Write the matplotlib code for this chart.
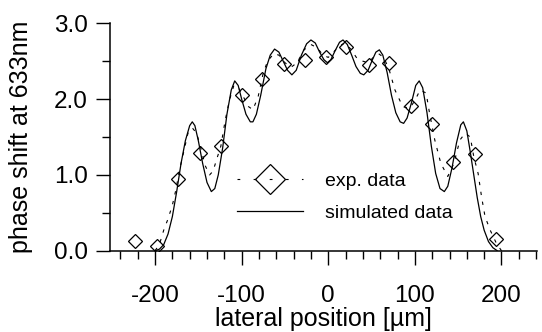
import matplotlib
matplotlib.use("Agg")
import matplotlib.pyplot as plt
from matplotlib.ticker import MultipleLocator, FormatStrFormatter

plt.rcParams['font.family'] = ['Liberation Sans', 'DejaVu Sans']
plt.rcParams['axes.unicode_minus'] = False

# experimental data (diamonds)
exp_x = [-223, -198, -174, -148, -124, -100, -76, -51, -27, -3, 20, 47, 70, 95, 120, 144, 169, 194]
exp_y = [0.13, 0.06, 0.95, 1.29, 1.38, 2.05, 2.27, 2.46, 2.52, 2.55, 2.69, 2.45, 2.48, 1.91, 1.67, 1.17, 1.28, 0.15]

# dashed curve accompanying experimental data
dash_x = [-200, -195, -190, -185, -180, -176, -172, -167, -162, -157, -152, -147, -142, -137, -133,
          -129, -124, -119, -114, -109, -104, -98, -92, -87, -81, -75, -70, -63, -57, -50, -43, -36,
          -28, -20, -13, -6, 0, 6, 13, 19, 26, 33, 40, 46, 52, 58, 64, 70, 77, 86, 94, 100, 106, 113,
          117, 123, 130, 138, 145, 152, 158, 164, 168, 173, 177, 181, 187, 194, 200]
dash_y = [0.0, 0.08, 0.27, 0.42, 0.6, 0.80, 1.05, 1.3, 1.55, 1.62, 1.55, 1.35, 1.12, 1.0, 1.05,
          1.2, 1.38, 1.72, 1.99, 2.18, 2.16, 2.03, 1.9, 1.86, 2.03, 2.35, 2.5, 2.6, 2.58, 2.48, 2.42, 2.48,
          2.65, 2.72, 2.68, 2.58, 2.55, 2.62, 2.7, 2.74, 2.66, 2.54, 2.5, 2.48, 2.55, 2.6, 2.55, 2.4, 2.12,
          1.9, 1.88, 1.98, 2.12, 2.08, 1.81, 1.46, 1.15, 0.98, 1.15, 1.46, 1.55, 1.5, 1.24, 1.02, 0.71,
          0.45, 0.27, 0.10, 0.0]

# simulated data (solid)
sim_x = [-200, -195, -190, -185, -180, -175, -170, -165, -160, -157, -154, -150, -145, -140, -135,
         -131, -127, -122, -117, -112, -108, -104, -100, -95, -90, -87, -83, -78, -72, -67, -62, -57,
         -52, -47, -42, -37, -31, -25, -20, -15, -10, -5, -1, 3, 8, 13, 17, 22, 27, 32, 37, 41, 46, 51,
         55, 59, 63, 68, 73, 78, 83, 87, 91, 96, 101, 105, 109, 114, 119, 124, 129, 134, 138, 143, 148,
         153, 156, 160, 164, 168, 172, 176, 180, 185, 190, 195]
sim_y = [0.0, 0.02, 0.08, 0.22, 0.45, 0.78, 1.15, 1.45, 1.65, 1.70, 1.65, 1.45, 1.15, 0.90, 0.78,
         0.82, 1.0, 1.35, 1.80, 2.12, 2.24, 2.18, 2.0, 1.80, 1.70, 1.70, 1.80, 2.05, 2.40, 2.58, 2.66, 2.62,
         2.50, 2.38, 2.32, 2.38, 2.58, 2.73, 2.78, 2.74, 2.62, 2.52, 2.48, 2.52, 2.64, 2.75, 2.78, 2.72, 2.58,
         2.43, 2.34, 2.32, 2.38, 2.52, 2.62, 2.65, 2.58, 2.35, 2.05, 1.82, 1.70, 1.68, 1.75, 1.95, 2.18,
         2.24, 2.15, 1.82, 1.38, 1.02, 0.82, 0.78, 0.85, 1.10, 1.42, 1.66, 1.70, 1.58, 1.30, 1.0, 0.70,
         0.45, 0.27, 0.12, 0.04, 0.0]

fig = plt.figure(figsize=(5.42, 3.32), dpi=100)
ax = fig.add_axes([110/542, 81.3/332, 427/542, 227.4/332])

ax.plot(dash_x, dash_y, color='black', lw=0.8, dashes=(3, 6))
ax.plot(exp_x, exp_y, linestyle='none', marker='D', ms=7, mfc='none', mec='black', mew=0.9)
ax.plot(sim_x, sim_y, color='black', lw=0.9)

# legend proxies
h_exp, = ax.plot([], [], color='black', lw=0.8, dashes=(2.5, 12), marker='D', ms=15,
                 mfc='none', mec='black', mew=0.9)
h_sim, = ax.plot([], [], color='black', lw=0.9)
leg = ax.legend([h_exp, h_sim], ['exp. data', 'simulated data'], loc='center left',
                bbox_to_anchor=(0.297, 0.235), frameon=False, fontsize=14, handlelength=3.4,
                handletextpad=1.15, labelspacing=0.75, borderpad=0, borderaxespad=0, numpoints=1)

ax.set_xlim(-252, 241)
ax.set_ylim(0, 3.0)
for s in ['top', 'right']:
    ax.spines[s].set_visible(False)
for s in ['left', 'bottom']:
    ax.spines[s].set_linewidth(1.1)

ax.xaxis.set_major_locator(MultipleLocator(100))
ax.xaxis.set_minor_locator(MultipleLocator(20))
ax.yaxis.set_major_locator(MultipleLocator(1.0))
ax.yaxis.set_minor_locator(MultipleLocator(0.5))
ax.yaxis.set_major_formatter(FormatStrFormatter('%.1f'))

ax.tick_params(axis='both', which='major', direction='out', length=10, width=1.0, labelsize=17.5)
ax.tick_params(axis='both', which='minor', direction='out', length=5.5, width=1.0)
ax.tick_params(axis='x', which='major', pad=15)
ax.tick_params(axis='y', which='major', pad=6)

ax.set_xlabel('lateral position [µm]', fontsize=18, labelpad=0)
ax.set_ylabel('phase shift at 633nm', fontsize=18, labelpad=15)

fig.savefig('out.png', dpi=100)
